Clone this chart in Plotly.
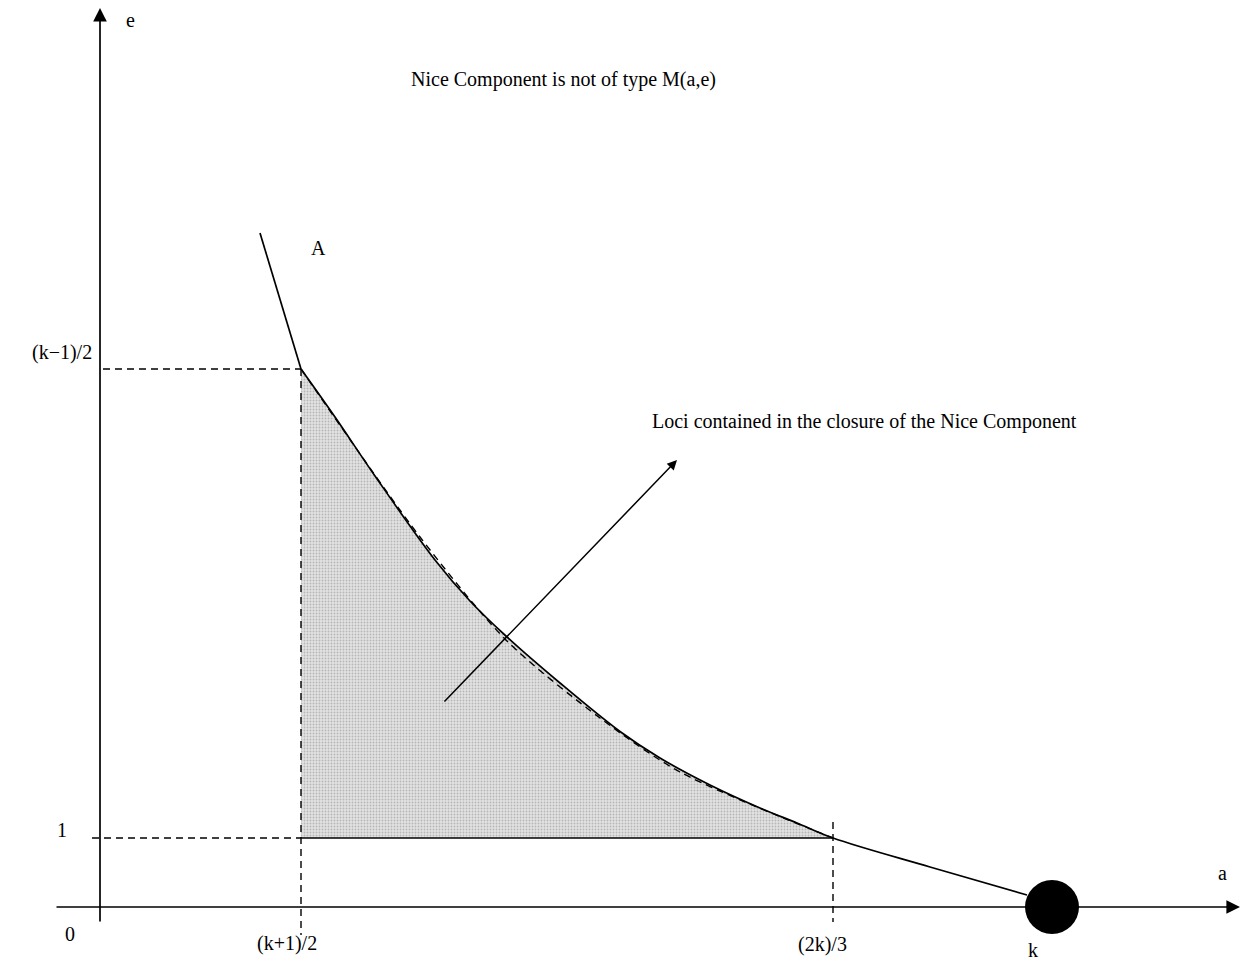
import plotly.graph_objects as go

# Diagram coordinates: origin where the a- and e-axes cross, 1 unit = 100 px.
A_LOW = 2.01        # (k+1)/2
A_MID = 7.33        # (2k)/3
A_K = 9.52          # k
E_ONE = 0.69        # 1
E_TOP = 5.38        # (k-1)/2

# Upper branch above point A (straight)
branch_a = [1.60, 2.01]
branch_e = [6.74, 5.38]

# Boundary curve of the Nice Component from A down towards k
curve_a = [2.01, 2.35, 2.75, 3.35, 3.70, 4.07, 4.60, 5.20, 5.60, 6.10,
           6.60, 6.97, 7.33, 8.30, 9.27]
curve_e = [5.38, 4.90, 4.31, 3.47, 3.06, 2.70, 2.24, 1.755, 1.49, 1.22,
           0.99, 0.84, 0.69, 0.40, 0.12]

# Dashed loci hugging the curve
loci_a = [2.01, 3.20, 4.07, 5.00, 5.80, 7.33]
loci_e = [5.38, 3.70, 2.66, 1.89, 1.35, 0.69]

# Shaded region (upper boundary follows the curve between A_LOW and A_MID)
n_shade = curve_a.index(A_MID) + 1
shade_a = [A_LOW] + curve_a[:n_shade] + [A_LOW]
shade_e = [E_ONE] + curve_e[:n_shade] + [E_ONE]

# Axis extents
X_AXIS = (-0.45, 11.40)
Y_AXIS = (-0.16, 8.99)

# Arrow for the loci label
ARROW_TAIL = (3.43, 2.04)
ARROW_HEAD = (5.77, 4.47)

FONT = "Liberation Serif, Times New Roman, serif"
BLACK = "black"

fig = go.Figure()

fig.add_trace(go.Scatter(
    x=shade_a, y=shade_e, mode="lines", fill="toself",
    fillcolor="#dcdcdc",
    fillpattern=dict(shape=".", fgcolor="#8a8a8a", bgcolor="#e2e2e2",
                     size=3, solidity=0.3),
    line=dict(width=0), hoverinfo="skip"))

# Bottom edge of shaded region (solid)
fig.add_trace(go.Scatter(x=[A_LOW, A_MID], y=[E_ONE, E_ONE], mode="lines",
                         line=dict(color=BLACK, width=1.7)))

# Dashed guide lines
dash = dict(color=BLACK, width=1.4, dash="7px,5px")
fig.add_trace(go.Scatter(x=[0.03, A_LOW], y=[E_TOP, E_TOP], mode="lines", line=dash))
fig.add_trace(go.Scatter(x=[-0.08, A_LOW], y=[E_ONE, E_ONE], mode="lines", line=dash))
fig.add_trace(go.Scatter(x=[A_LOW, A_LOW], y=[E_TOP, -0.28], mode="lines", line=dash))
fig.add_trace(go.Scatter(x=[A_MID, A_MID], y=[0.85, -0.15], mode="lines", line=dash))
fig.add_trace(go.Scatter(x=loci_a, y=loci_e, mode="lines",
                         line=dict(dash, shape="spline", smoothing=0.8)))

# Main curve
fig.add_trace(go.Scatter(x=branch_a, y=branch_e, mode="lines",
                         line=dict(color=BLACK, width=1.7)))
fig.add_trace(go.Scatter(x=curve_a, y=curve_e, mode="lines",
                         line=dict(color=BLACK, width=1.7, shape="spline", smoothing=1.0)))

# Point k on the a-axis
fig.add_trace(go.Scatter(x=[A_K], y=[0], mode="markers",
                         marker=dict(size=54, color=BLACK)))

ann = []
# Axes drawn as arrows
ann.append(dict(x=X_AXIS[1], y=0, ax=X_AXIS[0], ay=0, xref="x", yref="y",
                axref="x", ayref="y", showarrow=True, arrowhead=2,
                arrowsize=1.6, arrowwidth=1.7, arrowcolor=BLACK, text=""))
ann.append(dict(x=0, y=Y_AXIS[1], ax=0, ay=Y_AXIS[0], xref="x", yref="y",
                axref="x", ayref="y", showarrow=True, arrowhead=2,
                arrowsize=1.6, arrowwidth=1.7, arrowcolor=BLACK, text=""))
ann.append(dict(x=ARROW_HEAD[0], y=ARROW_HEAD[1], ax=ARROW_TAIL[0], ay=ARROW_TAIL[1],
                xref="x", yref="y", axref="x", ayref="y", showarrow=True,
                arrowhead=2, arrowsize=1.3, arrowwidth=1.5, arrowcolor=BLACK, text=""))


def label(text, x, y, xshift=0, yshift=0, size=20):
    ann.append(dict(x=x, y=y, text=text, showarrow=False, xref="x", yref="y",
                    xshift=xshift, yshift=yshift,
                    font=dict(family=FONT, size=size, color=BLACK)))


label("e", 0.30, 8.87)
label("a", 11.22, 0.34)
label("A", 2.18, 6.59)
label("Nice Component is not of type M(a,e)", 4.63, 8.28)
label("Loci contained in the closure of the Nice Component", 7.64, 4.86)
label("(k\u22121)/2", -0.38, E_TOP, yshift=17)
label("1", -0.38, E_ONE, yshift=8)
label("0", -0.30, 0, yshift=-27)
label("(k+1)/2", A_LOW, 0, xshift=-14, yshift=-36)
label("(2k)/3", A_MID, 0, xshift=-11, yshift=-37)
label("k", A_K, 0, xshift=-19, yshift=-43)

fig.update_layout(
    width=1245, height=966,
    margin=dict(l=0, r=0, t=0, b=0),
    paper_bgcolor="white", plot_bgcolor="white",
    showlegend=False,
    annotations=ann,
    xaxis=dict(range=[-1.00, 11.45], visible=False, fixedrange=True),
    yaxis=dict(range=[-0.59, 9.07], visible=False, fixedrange=True),
)

fig.write_html("out.html")
